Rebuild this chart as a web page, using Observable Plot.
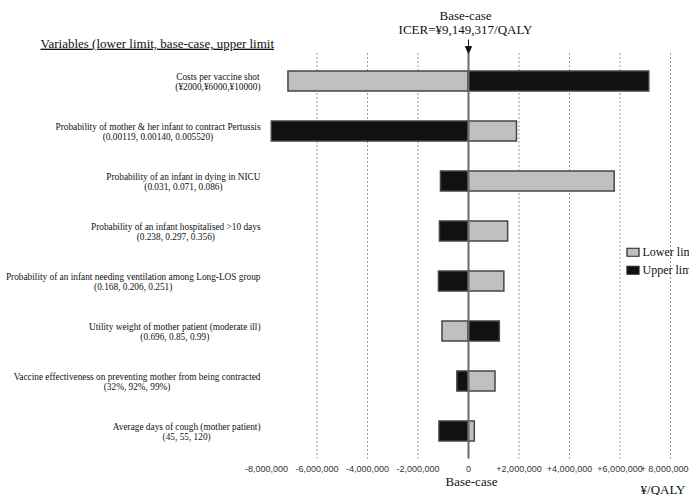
<!DOCTYPE html>
<html>
<head>
<meta charset="utf-8">
<script src="https://cdn.jsdelivr.net/npm/d3@7"></script>
<script src="https://cdn.jsdelivr.net/npm/@observablehq/plot@0.6"></script>
<style>
  html, body { margin: 0; padding: 0; background: #fff; overflow: hidden; }
  #chart { width: 689px; height: 495px; overflow: hidden; }
</style>
</head>
<body>
<div id="chart"></div>
<script>
// One-way sensitivity analysis (tornado diagram): change in ICER from the base case
const variables = [
  "Costs per vaccine shot",
  "Probability of mother & her infant to contract Pertussis",
  "Probability of an infant in dying in NICU",
  "Probability of an infant hospitalised >10 days",
  "Probability of an infant needing ventilation  among Long-LOS group",
  "Utility  weight of mother patient (moderate ill)",
  "Vaccine effectiveness on preventing  mother from being contracted",
  "Average  days of cough (mother patient)"
];
const ranges = [
  "(¥2000,¥6000,¥10000)",
  "(0.00119, 0.00140, 0.005520)",
  "(0.031, 0.071, 0.086)",
  "(0.238, 0.297, 0.356)",
  "(0.168, 0.206, 0.251)",
  "(0.696, 0.85, 0.99)",
  "(32%, 92%, 99%)",
  "(45, 55, 120)"
];
// ICER difference from base case (¥/QALY) at each parameter's lower / upper limit
const lowerLimitDelta = [-7130000, 1920000, 5790000, 1570000, 1420000, -1030000, 1070000, 250000];
const upperLimitDelta = [7160000, -7790000, -1090000, -1130000, -1170000, 1240000, -440000, -1150000];
const xTicks = [-8000000, -6000000, -4000000, -2000000, 0, 2000000, 4000000, 6000000, 8000000];
const gridTicks = [-6000000, -4000000, -2000000, 2000000, 4000000, 6000000, 8000000];
const baseCaseIcer = "¥9,149,317";
const legendLabels = ["Lower limit", "Upper limit"];

const lowerColor = "#c0c0c0";
const upperColor = "#111111";
const serif = "'Liberation Serif', 'Times New Roman', serif";
const labelSize = 9.3;

const rows = variables.map((v, i) => ({
  variable: v, range: ranges[i], lower: lowerLimitDelta[i], upper: upperLimitDelta[i]
}));

const marginLeft = 266, marginRight = 19, marginTop = 53, marginBottom = 36.5;

// width of a label block, used to keep each two-line label right-aligned beside the chart
const ctx = document.createElement("canvas").getContext("2d");
ctx.font = `${labelSize}px ${serif}`;
const labelRightEdge = 260;
const blockWidth = r => Math.max(ctx.measureText(r.variable.replace(/\s+/g, " ")).width,
                                 ctx.measureText(r.range).width);

const fmtTick = d => d === 0 ? "0"
  : d > 0 ? (d === 8000000 ? "+ " : "+") + d.toLocaleString("en-US")
  : d.toLocaleString("en-US");

// legend swatch and the base-case arrow as custom symbols
const swatch = { draw(c) { c.moveTo(-6, -4); c.lineTo(6, -4); c.lineTo(6, 4); c.lineTo(-6, 4); c.closePath(); } };
const downArrow = { draw(c) { c.moveTo(0, -14); c.lineTo(0, -6); c.moveTo(-3, -7); c.lineTo(3, -7); c.lineTo(0, 0); c.closePath(); } };

const chart = Plot.plot({
  width: 689,
  height: 495,
  marginLeft, marginRight, marginTop, marginBottom,
  style: { background: "#fff", fontFamily: "'Liberation Sans', Arial, sans-serif", fontSize: "9px", color: "#333", overflow: "visible" },
  x: { domain: [-8000000, 8000000], ticks: xTicks, tickFormat: fmtTick, tickSize: 0, tickPadding: 7, label: null },
  y: { domain: variables, axis: null, paddingInner: 0.6, paddingOuter: 0.3 },
  marks: [
    Plot.ruleX(gridTicks, { stroke: "#9a9a9a", strokeWidth: 1, strokeDasharray: "2,2" }),
    Plot.barX(rows, { y: "variable", x1: 0, x2: "lower", fill: lowerColor, stroke: "#454545", strokeWidth: 1.5 }),
    Plot.barX(rows, { y: "variable", x1: 0, x2: "upper", fill: upperColor, stroke: "#454545", strokeWidth: 1.5 }),
    Plot.ruleX([0], { stroke: "#6b6b6b", strokeWidth: 2 }),
    // parameter labels with their (lower, base-case, upper) values
    ...rows.map(r => Plot.text([r], {
      y: "variable",
      text: d => `${d.variable.replace(/\s+/g, " ")}\n${d.range}`,
      frameAnchor: "left",
      textAnchor: "middle",
      dx: labelRightEdge - blockWidth(r) / 2 - marginLeft,
      fontFamily: serif, fontSize: labelSize, lineHeight: 1.15, fill: "#111"
    })),
    // base-case arrow and title
    Plot.dot(["base"], { frameAnchor: "top", symbol: downArrow, fill: "#111", stroke: "#111", strokeWidth: 1 }),
    Plot.text([`Base-case\nICER=${baseCaseIcer}/QALY`], {
      frameAnchor: "top", lineAnchor: "middle", text: d => d, dx: -3, dy: -31, lineHeight: 1.1,
      fontFamily: serif, fontSize: 13, fill: "#111"
    }),
    Plot.text(["Variables (lower limit, base-case, upper limit"], {
      frameAnchor: "top-left", lineAnchor: "middle", text: d => d, textAnchor: "start", dx: -226, dy: -10,
      fontFamily: serif, fontSize: 13, fill: "#111"
    }),
    // bottom annotations
    Plot.text(["Base-case"], {
      frameAnchor: "bottom", lineAnchor: "middle", text: d => d, dx: 3, dy: 22.5,
      fontFamily: serif, fontSize: 13, fill: "#111"
    }),
    Plot.text(["¥/QALY"], {
      frameAnchor: "bottom-right", lineAnchor: "middle", text: d => d, textAnchor: "end", dx: 15, dy: 30.5,
      fontFamily: serif, fontSize: 13, fill: "#111"
    }),
    // legend
    Plot.dot([legendLabels[0]], { frameAnchor: "right", symbol: swatch, fill: lowerColor, stroke: "#222", strokeWidth: 1.2, dx: -37.5, dy: -4 }),
    Plot.dot([legendLabels[1]], { frameAnchor: "right", symbol: swatch, fill: upperColor, stroke: "#222", strokeWidth: 1.2, dx: -37.5, dy: 14 }),
    Plot.text([legendLabels[0]], { frameAnchor: "right", lineAnchor: "middle", text: d => d, textAnchor: "start", dx: -28, dy: -4, fontFamily: serif, fontSize: 12, fill: "#111" }),
    Plot.text([legendLabels[1]], { frameAnchor: "right", lineAnchor: "middle", text: d => d, textAnchor: "start", dx: -28, dy: 14, fontFamily: serif, fontSize: 12, fill: "#111" })
  ]
});

const svg = d3.select(chart);
svg.selectAll("text")
  .filter(function () { return this.textContent.startsWith("Variables"); })
  .style("text-decoration", "underline");
// keep the last tick label inside the right edge
svg.selectAll("text")
  .filter(function () { return this.textContent === fmtTick(8000000); })
  .attr("dx", -6);

document.getElementById("chart").append(chart);
</script>
</body>
</html>
